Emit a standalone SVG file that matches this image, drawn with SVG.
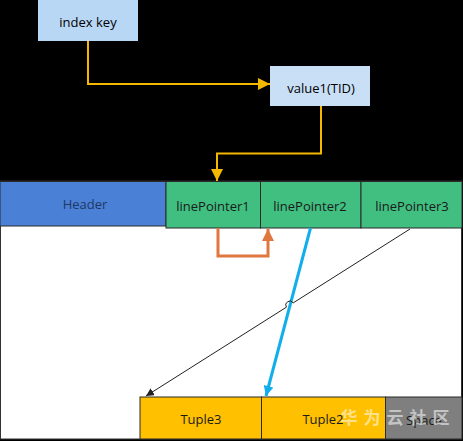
<svg xmlns="http://www.w3.org/2000/svg" width="463" height="441" viewBox="0 0 463 441">
<defs>
<style>
text{font-family:"Open Sans","Noto Sans","Liberation Sans",sans-serif;font-size:13px;text-anchor:middle;dominant-baseline:central}
.yl{fill:none;stroke:#F5B800;stroke-width:2}
.or{fill:none;stroke:#E0773F;stroke-width:3}
.bl{fill:none;stroke:#10AEEA;stroke-width:3}
.bk{fill:none;stroke:#222;stroke-width:1}
.cell{stroke:#2a2a2a;stroke-width:1}
</style>
<marker id="ay" markerWidth="12" markerHeight="12" refX="10" refY="5" orient="auto" markerUnits="userSpaceOnUse" viewBox="0 0 10 10"><path d="M0,0L10,5L0,10z" fill="#F5B800"/></marker>
<marker id="ao" markerWidth="12" markerHeight="12" refX="10" refY="5" orient="auto" markerUnits="userSpaceOnUse" viewBox="0 0 10 10"><path d="M0,0L10,5L0,10z" fill="#E0773F"/></marker>
<marker id="ab" markerWidth="12" markerHeight="10" refX="10" refY="5" orient="auto" markerUnits="userSpaceOnUse" viewBox="0 0 10 10"><path d="M0,0L10,5L0,10z" fill="#10AEEA"/></marker>
<marker id="ak" markerWidth="8" markerHeight="8" refX="8" refY="4" orient="auto" markerUnits="userSpaceOnUse" viewBox="0 0 8 8"><path d="M0,0L8,4L0,8z" fill="#222"/></marker>
</defs>
<rect width="463" height="441" fill="#000"/>
<rect x="0.5" y="181" width="461" height="258" fill="#fff" stroke="#333" stroke-width="1"/>
<g id="index-key"><rect x="38" y="0" width="100" height="41" fill="#B8D7F5"/><text x="88" y="22">index key</text></g>
<g id="value1"><rect x="270" y="66" width="100" height="40" fill="#C8DFF6"/><text x="321" y="88">value1(TID)</text></g>
<g id="header"><rect x="0" y="181.5" width="166" height="44.5" fill="#4A80D6" class="cell"/><text x="85" y="204" fill="#1F3864">Header</text></g>
<g id="linePointer1"><rect x="166" y="181.5" width="94.5" height="46.5" fill="#40BF80" class="cell"/><text x="213" y="206" fill="#1a1a1a">linePointer1</text></g>
<g id="linePointer2"><rect x="260.5" y="181.5" width="100.5" height="46.5" fill="#40BF80" class="cell"/><text x="310" y="206" fill="#1a1a1a">linePointer2</text></g>
<g id="linePointer3"><rect x="361" y="181.5" width="101" height="46.5" fill="#40BF80" class="cell"/><text x="412" y="206" fill="#1a1a1a">linePointer3</text></g>
<g id="tuple3"><rect x="140" y="397" width="121.5" height="42" fill="#FFC000" class="cell"/><text x="201" y="419" fill="#1a1a1a">Tuple3</text></g>
<g id="tuple2"><rect x="261.5" y="397" width="124" height="42" fill="#FFC000" class="cell"/><text x="323" y="419" fill="#1a1a1a">Tuple2</text></g>
<g id="space"><rect x="385.5" y="397" width="76.5" height="42" fill="#7F7F7F" class="cell"/><text x="424" y="420" fill="#1a1a1a">Space</text></g>
<g id="connectors">
<path class="yl" d="M88,41V84H270" marker-end="url(#ay)"/>
<path class="yl" d="M321,106V153.5H217V181" marker-end="url(#ay)"/>
<path class="or" d="M218,228V256H268V229" marker-end="url(#ao)"/>
<path class="bl" d="M310.5,228L266,396" marker-end="url(#ab)"/>
<path class="bk" d="M410,229L293.2,302.9A4,4 0 0 0 286.4,307.2L146,396" marker-end="url(#ak)"/>
</g>
<text x="398" y="416" style="font-family:'Noto Sans CJK SC',sans-serif;font-size:17px;font-weight:bold;letter-spacing:6px" fill="#fff" fill-opacity="0.55">华为云社区</text>
</svg>
